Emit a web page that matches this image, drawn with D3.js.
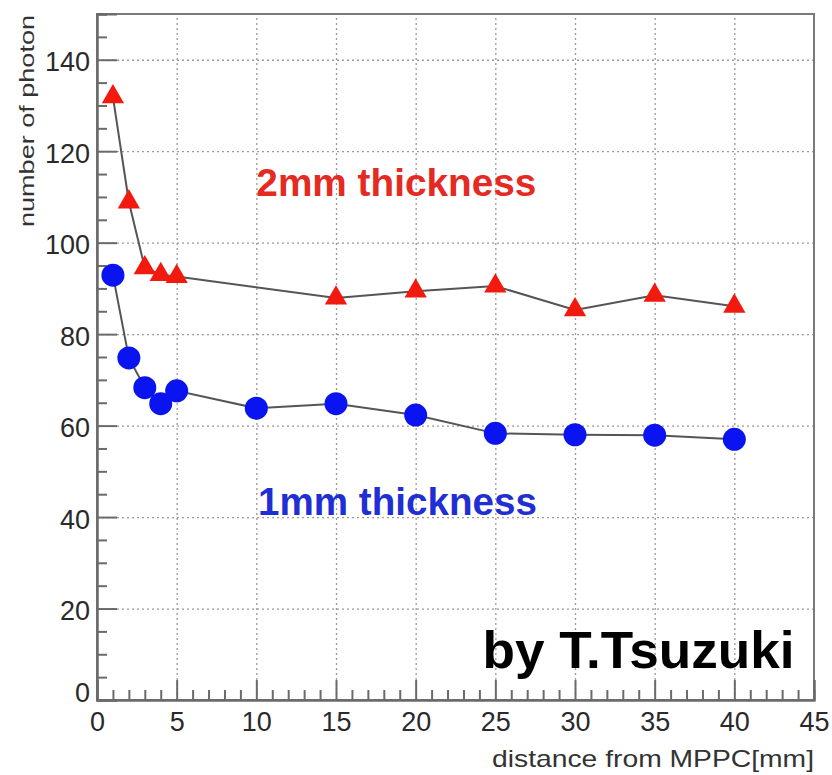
<!DOCTYPE html>
<html>
<head>
<meta charset="utf-8">
<script src="https://cdn.jsdelivr.net/npm/d3@7"></script>
<style>
  html, body { margin: 0; padding: 0; background: #fff; }
  svg { display: block; }
  text { font-family: "Liberation Sans", Arial, Helvetica, sans-serif; }
</style>
</head>
<body>
<svg id="chart" width="832" height="775"></svg>
<script>
// Photon yield vs. distance from the MPPC for two scintillator thicknesses
const distance2mm = [1, 2, 3, 4, 5, 15, 20, 25, 30, 35, 40];
const photons2mm  = [131.9, 108.9, 94.5, 93.0, 92.6, 87.9, 89.4, 90.5, 85.3, 88.5, 86.1];

const distance1mm = [1, 2, 3, 4, 5, 10, 15, 20, 25, 30, 35, 40];
const photons1mm  = [92.9, 74.8, 68.3, 64.8, 67.6, 63.8, 64.8, 62.3, 58.3, 58.0, 57.9, 57.0];

const xTickValues = [0, 5, 10, 15, 20, 25, 30, 35, 40, 45];
const yTickValues = [0, 20, 40, 60, 80, 100, 120, 140];
const xTitle = "distance from MPPC[mm]";
const yTitle = "number of photon";
const label2mm = "2mm thickness";
const label1mm = "1mm thickness";
const credit = "by T.Tsuzuki";

const svg = d3.select("#chart");
const frame = { left: 97, right: 814, top: 14, bottom: 700 };

const x = d3.scaleLinear().domain([0, 45]).range([frame.left, frame.right]);
const y = d3.scaleLinear().domain([0, 150]).range([frame.bottom, frame.top]);
const W = frame.right - frame.left, H = frame.bottom - frame.top;

const axisColor = "#6a6a6a";

// dotted grid at every major tick
const gridX = svg.append("g").attr("transform", `translate(0,${frame.bottom})`)
  .call(d3.axisBottom(x).tickValues(xTickValues.slice(1, -1)).tickSize(-H).tickFormat(""));
const gridY = svg.append("g").attr("transform", `translate(${frame.left},0)`)
  .call(d3.axisLeft(y).tickValues(yTickValues.slice(1)).tickSize(-W).tickFormat(""));
[gridX, gridY].forEach(g => {
  g.select(".domain").remove();
  g.selectAll("line").attr("stroke", "#9a9a9a").attr("stroke-width", 1.3)
    .attr("stroke-dasharray", "2,3");
});

// frame
svg.append("rect")
  .attr("x", frame.left).attr("y", frame.top)
  .attr("width", W).attr("height", H)
  .attr("fill", "none").attr("stroke", "#7a7a7a").attr("stroke-width", 2);

// minor ticks
const xMinor = d3.range(0, 46, 1).filter(v => v % 5 !== 0);
const yMinor = d3.range(0, 151, 5).filter(v => v % 20 !== 0);
const gxm = svg.append("g").attr("transform", `translate(0,${frame.bottom})`)
  .call(d3.axisBottom(x).tickValues(xMinor).tickSize(-10).tickFormat(""));
const gym = svg.append("g").attr("transform", `translate(${frame.left},0)`)
  .call(d3.axisLeft(y).tickValues(yMinor).tickSize(-10).tickFormat(""));

// major ticks with labels
const gx = svg.append("g").attr("transform", `translate(0,${frame.bottom})`)
  .call(d3.axisBottom(x).tickValues(xTickValues).tickSize(-20).tickPadding(0));
const gy = svg.append("g").attr("transform", `translate(${frame.left},0)`)
  .call(d3.axisLeft(y).tickValues(yTickValues).tickSize(-20).tickPadding(0));

[gxm, gym, gx, gy].forEach(g => {
  g.select(".domain").attr("stroke", axisColor).attr("stroke-width", 2);
  g.selectAll(".tick line").attr("stroke", axisColor).attr("stroke-width", 2);
});

gx.selectAll(".tick text")
  .attr("y", 0).attr("dy", null)
  .attr("transform", "translate(0,31)")
  .attr("font-size", 27).attr("fill", "#2a2a2a")
  .attr("text-anchor", "middle");
gy.selectAll(".tick text")
  .attr("x", 0).attr("dy", null)
  .attr("transform", "translate(-7,11)")
  .attr("font-size", 27).attr("fill", "#2a2a2a")
  .attr("text-anchor", "end");
gy.selectAll(".tick").filter(d => d === 0).select("text")
  .attr("transform", "translate(-7,1)");

// axis titles
svg.append("text")
  .attr("x", frame.right).attr("y", 767)
  .attr("text-anchor", "end").attr("font-size", 24).attr("fill", "#333")
  .attr("textLength", 322).attr("lengthAdjust", "spacingAndGlyphs")
  .text(xTitle);
svg.append("text")
  .attr("transform", `translate(34,${frame.top + 1}) rotate(-90)`)
  .attr("text-anchor", "end").attr("font-size", 21).attr("fill", "#333")
  .attr("textLength", 212).attr("lengthAdjust", "spacingAndGlyphs")
  .text(yTitle);

// connecting lines
const line = d3.line().x(d => x(d[0])).y(d => y(d[1]));
const pts2 = distance2mm.map((d, i) => [d, photons2mm[i]]);
const pts1 = distance1mm.map((d, i) => [d, photons1mm[i]]);
[pts2, pts1].forEach(p => {
  svg.append("path").datum(p).attr("d", line)
    .attr("fill", "none").attr("stroke", "#555").attr("stroke-width", 2);
});

// markers
svg.append("g").selectAll("path").data(pts2).join("path")
  .attr("d", d3.symbol(d3.symbolTriangle, 215))
  .attr("transform", d => `translate(${x(d[0])},${y(d[1])})`)
  .attr("fill", "#f21a0e");
svg.append("g").selectAll("circle").data(pts1).join("circle")
  .attr("cx", d => x(d[0])).attr("cy", d => y(d[1]))
  .attr("r", 11.5).attr("fill", "#0a14f0");

// series labels
svg.append("text")
  .attr("x", x(10)).attr("y", y(110.2))
  .attr("font-size", 38).attr("font-weight", "bold").attr("fill", "#e42a22")
  .attr("textLength", 280).attr("lengthAdjust", "spacingAndGlyphs")
  .text(label2mm);
svg.append("text")
  .attr("x", x(10.1)).attr("y", y(40.4))
  .attr("font-size", 38).attr("font-weight", "bold").attr("fill", "#1f2fd3")
  .attr("textLength", 279).attr("lengthAdjust", "spacingAndGlyphs")
  .text(label1mm);

// credit
svg.append("text")
  .attr("x", x(24.2)).attr("y", y(7))
  .attr("font-size", 52).attr("font-weight", "bold").attr("fill", "#000")
  .attr("textLength", 312).attr("lengthAdjust", "spacingAndGlyphs")
  .text(credit);
</script>
</body>
</html>
